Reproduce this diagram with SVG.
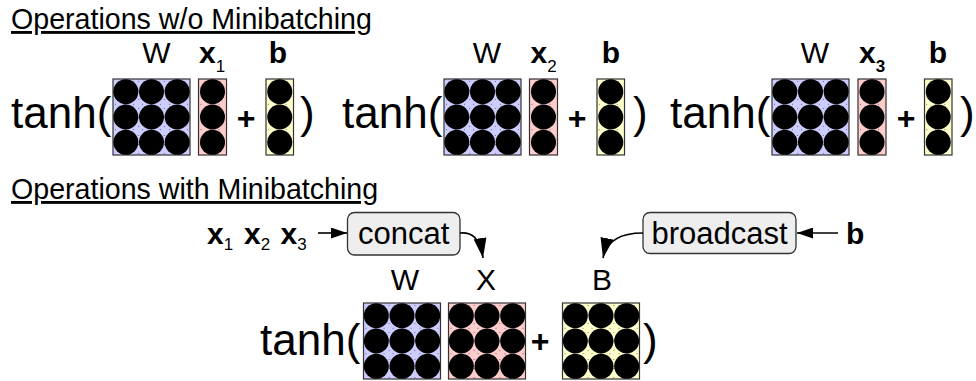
<svg xmlns="http://www.w3.org/2000/svg" xmlns:xlink="http://www.w3.org/1999/xlink" width="976" height="381" viewBox="0 0 976 381">
<style>
text{font-family:"Liberation Sans",Arial,sans-serif;fill:#000}
.ttl{font-size:28.6px;text-decoration:underline}
.lbl{font-size:30px}
.bl{font-size:30px;font-weight:bold}
.sub{font-size:17px;font-weight:normal}
.big{font-size:44px}
.plus{font-size:32px;font-weight:bold}
.op{font-size:31px}
.mW{fill:#ccccff;stroke:#333;stroke-width:1.2}
.mX{fill:#ffcccc;stroke:#333;stroke-width:1.2}
.mB{fill:#ffffcc;stroke:#333;stroke-width:1.2}
.grid{stroke:#555;stroke-width:0.8;stroke-dasharray:1 8;stroke-dashoffset:-2;fill:none}
.box{fill:#eeeeee;stroke:#333;stroke-width:1.3}
.con{fill:none;stroke:#000;stroke-width:1.6}
</style>
<defs>
<marker id="ah" viewBox="0 0 16 11" refX="16" refY="5.5" markerWidth="16" markerHeight="11" markerUnits="userSpaceOnUse" orient="auto">
<path d="M0,0 L16,5.5 L0,11 Z" fill="#000"/>
</marker>
<marker id="ahc" viewBox="0 0 20 13" refX="20" refY="6.5" markerWidth="20" markerHeight="13" markerUnits="userSpaceOnUse" orient="auto">
<path d="M0,0 L20,6.5 L0,13 Z" fill="#000"/>
</marker>
<g id="m33">
<path class="grid" d="M25.67,0V76M51.33,0V76M0,25.33H77M0,50.67H77"/>
<g fill="#000">
<circle cx="12.83" cy="12.67" r="12.5"/><circle cx="38.5" cy="12.67" r="12.5"/><circle cx="64.17" cy="12.67" r="12.5"/>
<circle cx="12.83" cy="38" r="12.5"/><circle cx="38.5" cy="38" r="12.5"/><circle cx="64.17" cy="38" r="12.5"/>
<circle cx="12.83" cy="63.33" r="12.5"/><circle cx="38.5" cy="63.33" r="12.5"/><circle cx="64.17" cy="63.33" r="12.5"/>
</g>
</g>
<g id="m31">
<path class="grid" d="M0,25.33H28M0,50.67H28"/>
<g fill="#000">
<circle cx="14" cy="12.67" r="12.5"/><circle cx="14" cy="38" r="12.5"/><circle cx="14" cy="63.33" r="12.5"/>
</g>
</g>
</defs>

<g id="title1"><text class="ttl" x="11" y="29">Operations w/o Minibatching</text></g>

<g id="expr1">
<text class="big" x="11" y="128">tanh(</text>
<g id="W1"><text class="lbl" x="156.5" y="63" text-anchor="middle">W</text><rect class="mW" x="113" y="79" width="77" height="76"/><use xlink:href="#m33" x="113" y="79"/></g>
<g id="x1"><text class="bl" x="199" y="63">x<tspan class="sub" dy="9">1</tspan></text><rect class="mX" x="198.5" y="79" width="28" height="76"/><use xlink:href="#m31" x="198.5" y="79"/></g>
<text class="plus" x="246" y="128.5" text-anchor="middle">+</text>
<g id="b1"><text class="bl" x="278" y="63" text-anchor="middle">b</text><rect class="mB" x="266" y="79" width="27.5" height="76"/><use xlink:href="#m31" x="265.75" y="79"/></g>
<text class="big" x="300" y="128">)</text>
</g>

<g id="expr2">
<text class="big" x="342" y="128">tanh(</text>
<g id="W2"><text class="lbl" x="487" y="63" text-anchor="middle">W</text><rect class="mW" x="444" y="79" width="77" height="76"/><use xlink:href="#m33" x="444" y="79"/></g>
<g id="x2"><text class="bl" x="530.5" y="63">x<tspan class="sub" dy="9">2</tspan></text><rect class="mX" x="529.5" y="79" width="28" height="76"/><use xlink:href="#m31" x="529.5" y="79"/></g>
<text class="plus" x="577" y="128.5" text-anchor="middle">+</text>
<g id="b2"><text class="bl" x="611" y="63" text-anchor="middle">b</text><rect class="mB" x="597" y="79" width="27.5" height="76"/><use xlink:href="#m31" x="596.75" y="79"/></g>
<text class="big" x="633" y="128">)</text>
</g>

<g id="expr3">
<text class="big" x="670" y="128">tanh(</text>
<g id="W3"><text class="lbl" x="815" y="63" text-anchor="middle">W</text><rect class="mW" x="772" y="79" width="77" height="76"/><use xlink:href="#m33" x="772" y="79"/></g>
<g id="x3"><text class="bl" x="859" y="63">x<tspan class="sub" style="font-weight:bold" dy="9">3</tspan></text><rect class="mX" x="858" y="79" width="28" height="76"/><use xlink:href="#m31" x="858" y="79"/></g>
<text class="plus" x="906" y="128.5" text-anchor="middle">+</text>
<g id="b3"><text class="bl" x="938" y="63" text-anchor="middle">b</text><rect class="mB" x="924.5" y="79" width="27.5" height="76"/><use xlink:href="#m31" x="924.25" y="79"/></g>
<text class="big" x="960" y="128">)</text>
</g>

<g id="title2"><text class="ttl" x="11" y="199">Operations with Minibatching</text></g>

<g id="inputs">
<text class="bl" x="207" y="244">x<tspan class="sub" dy="6">1</tspan></text>
<text class="bl" x="244" y="244">x<tspan class="sub" dy="6">2</tspan></text>
<text class="bl" x="280.5" y="244">x<tspan class="sub" dy="6">3</tspan></text>
</g>

<g id="concat"><rect class="box" x="347.5" y="212.5" width="112.5" height="42.5" rx="7"/><text class="op" x="403.75" y="244" text-anchor="middle">concat</text></g>

<g id="broadcast"><rect class="box" x="643" y="212.5" width="153" height="41" rx="7"/><text class="op" x="719.5" y="244" text-anchor="middle">broadcast</text></g>

<g id="bin"><text class="bl" x="846" y="244">b</text></g>

<g id="expr4">
<text class="big" x="260" y="355">tanh(</text>
<g id="W4"><text class="lbl" x="405" y="290" text-anchor="middle">W</text><rect class="mW" x="363.5" y="303" width="77" height="76"/><use xlink:href="#m33" x="363.5" y="303"/></g>
<g id="X4"><text class="lbl" x="486" y="290" text-anchor="middle">X</text><rect class="mX" x="448.5" y="303" width="77" height="76"/><use xlink:href="#m33" x="448.5" y="303"/></g>
<text class="plus" x="540" y="352" text-anchor="middle">+</text>
<g id="B4"><text class="lbl" x="602" y="290" text-anchor="middle">B</text><rect class="mB" x="562.5" y="303" width="77" height="76"/><use xlink:href="#m33" x="562.5" y="303"/></g>
<text class="big" x="643" y="355">)</text>
</g>

<g id="connectors">
<path class="con" d="M318,233 H347" marker-end="url(#ah)"/>
<path class="con" d="M460,233 C472,232 480,238 483,258" marker-end="url(#ahc)"/>
<path class="con" d="M838,233 H797" marker-end="url(#ah)"/>
<path class="con" d="M643,233 C625,233 607,238 603,258" marker-end="url(#ahc)"/>
</g>
</svg>
